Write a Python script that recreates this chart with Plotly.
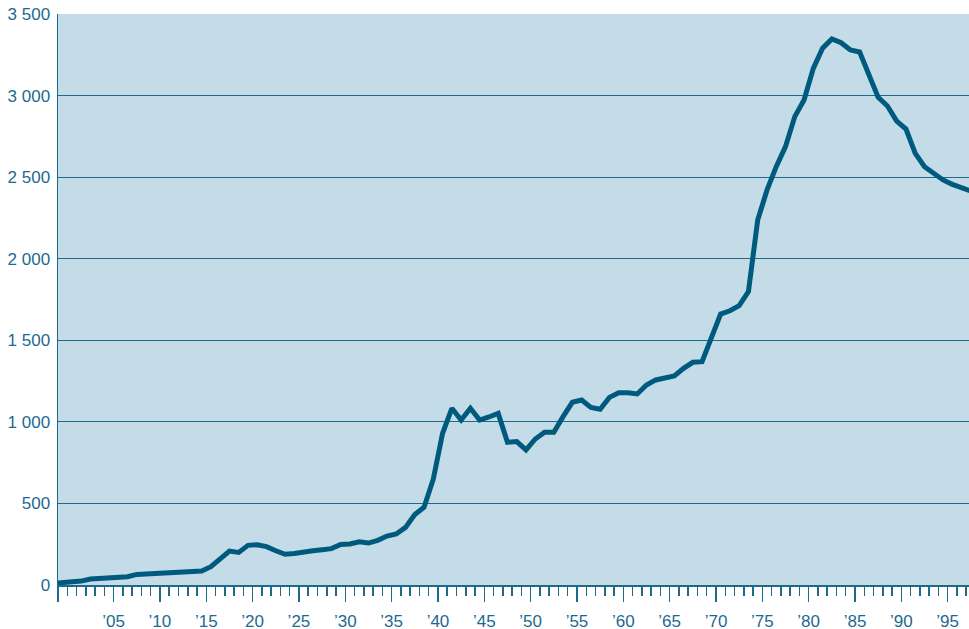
import plotly.graph_objects as go

# Data
years = list(range(1898, 1998))
values = [
    10, 15, 20, 24, 37, 42, 47, 49, 51, 65,      # 1898-1907
    67, 75, 74, 73, 80, 83, 86, 112, 163, 208,   # 1908-1917
    200, 243, 247, 235, 210, 188, 193, 198, 210, 216,  # 1918-1927
    223, 249, 251, 265, 257, 274, 300, 313, 353, 432,  # 1928-1937
    477, 650, 930, 1083, 1011, 1083, 1011, 1030, 1052, 875,  # 1938-1947
    879, 828, 895, 936, 936, 1032, 1120, 1134, 1089, 1077,   # 1948-1957
    1150, 1179, 1179, 1171, 1226, 1257, 1267, 1281, 1328, 1365,  # 1958-1967
    1369, 1512, 1661, 1681, 1712, 1798, 2237, 2420, 2564, 2687,  # 1968-1977
    2871, 2973, 3167, 3290, 3347, 3324, 3279, 3267, 3137, 2989,  # 1978-1987
    2936, 2844, 2795, 2646, 2564, 2524, 2483, 2456, 2438, 2415,  # 1988-1997
]

x_tick_vals = [1899] + list(range(1905, 1996, 5))
x_tick_text = [""] + ["\u2019" + str(y)[2:] for y in range(1905, 1996, 5)]
y_tick_vals = [0, 500, 1000, 1500, 2000, 2500, 3000, 3500]
y_tick_text = ["0", "500", "1 000", "1 500", "2 000", "2 500", "3 000", "3 500"]

line_color = "#005a7e"
axis_color = "#1d6a8c"
text_color = "#1d6a90"
bg_color = "#c4dce8"

fig = go.Figure()
fig.add_trace(go.Scatter(
    x=[y + 0.5 for y in years],  # each year centred in its band
    y=values,
    mode="lines",
    line=dict(color=line_color, width=5),
    hoverinfo="skip",
))

fig.update_layout(
    width=969, height=629,
    margin=dict(l=58, r=0, t=14, b=44),
    paper_bgcolor="white",
    plot_bgcolor=bg_color,
    showlegend=False,
    font=dict(family="Liberation Sans, Arial, sans-serif", size=17, color=text_color),
)

fig.update_xaxes(
    range=[1899, 1997.3],
    automargin=False,
    tickmode="array", tickvals=x_tick_vals, ticktext=x_tick_text,
    ticks="outside", ticklen=15, tickwidth=1.5, tickcolor=axis_color,
    minor=dict(tickmode="linear", tick0=1899, dtick=1, ticks="outside",
               ticklen=9, tickwidth=1.5, tickcolor=axis_color, showgrid=False),
    showline=True, linecolor=axis_color, linewidth=1.5,
    showgrid=False, zeroline=False,
    ticklabelstandoff=5,
    tickfont=dict(size=17, color=text_color),
)

fig.update_yaxes(
    range=[0, 3500],
    automargin=False,
    tickmode="array", tickvals=y_tick_vals, ticktext=y_tick_text,
    ticks="", showline=True, linecolor=axis_color, linewidth=1.5,
    showgrid=True, gridcolor=axis_color, gridwidth=1.2,
    zeroline=False,
    ticklabelstandoff=3,
    tickfont=dict(size=17, color=text_color),
)

# remove the browser's default page margin so the figure sits at the window origin
fig.write_html(
    "out.html",
    config={"displayModeBar": False, "staticPlot": True},
    post_script="document.body.style.margin='0';document.body.style.overflow='hidden';",
)
